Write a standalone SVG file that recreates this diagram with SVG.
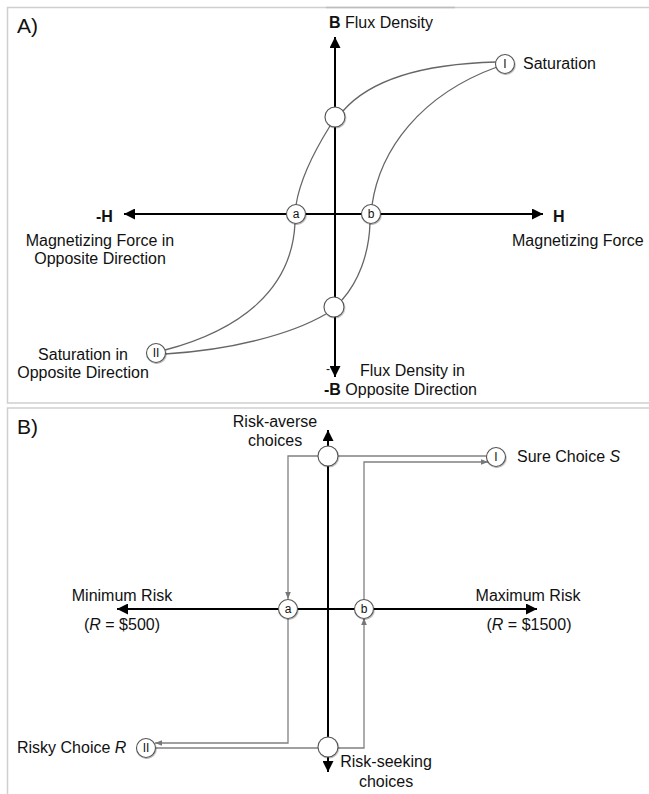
<svg xmlns="http://www.w3.org/2000/svg" width="649" height="794" viewBox="0 0 649 794">
<style>
text{font-family:"Liberation Sans",Arial,Helvetica,sans-serif;fill:#111}
.t{font-size:16px}
.h{font-size:21px}
.b{font-weight:bold}
.lbl{font-size:12px;text-anchor:middle}
.mid{text-anchor:middle}
.axis{stroke:#000;stroke-width:2;fill:none}
.curve{stroke:#666;stroke-width:1.3;fill:none}
.gl{stroke:#808080;stroke-width:1.3;fill:none}
.nd{fill:#fff;stroke:#555;stroke-width:1.1}
.frame{stroke:#cfcfcf;stroke-width:1.5;fill:none}
</style>
<defs>
<marker id="ah" viewBox="0 0 10 10" refX="10" refY="5" markerWidth="11" markerHeight="11" markerUnits="userSpaceOnUse" orient="auto-start-reverse">
<path d="M0,0 L10,5 L0,10 z" fill="#000"/>
</marker>
<marker id="ga" viewBox="0 0 10 10" refX="10" refY="5" markerWidth="7" markerHeight="7" markerUnits="userSpaceOnUse" orient="auto">
<path d="M0,1 L10,5 L0,9 z" fill="#777"/>
</marker>
<filter id="sh" x="-30%" y="-30%" width="160%" height="160%">
<feDropShadow dx="0.6" dy="1" stdDeviation="0.7" flood-color="#000" flood-opacity="0.3"/>
</filter>
</defs>
<rect width="649" height="794" fill="#fff"/>

<!-- Panel frames -->
<g id="frames">
<path class="frame" d="M650,7.5 H7.5 V403 H650"/>
<path d="M326,7.5 H455" stroke="#bdbdbd" stroke-width="1.5"/>
<path class="frame" d="M650,408 H7.5 V794"/>
</g>

<!-- Panel A -->
<g id="panelA">
<text class="h" x="17" y="33">A)</text>
<g id="connectorsA">
<line class="axis" x1="335" y1="377" x2="335" y2="37" marker-start="url(#ah)" marker-end="url(#ah)"/>
<line class="axis" x1="124" y1="214" x2="543" y2="214" marker-start="url(#ah)" marker-end="url(#ah)"/>
<path class="curve" d="M496,62 C420,64 370,80 343,111"/>
<path class="curve" d="M330,126 C315,150 300,180 296,205"/>
<path class="curve" d="M295,223 C292,290 240,330 165,350"/>
<path class="curve" d="M497,67 C420,95 380,150 372,205"/>
<path class="curve" d="M370,223 C369,255 358,282 342,300"/>
<path class="curve" d="M326,314 C290,335 230,350 165,354"/>
</g>
<g id="A-top"><circle class="nd" filter="url(#sh)" cx="335" cy="117" r="10"/></g>
<g id="A-I"><circle class="nd" filter="url(#sh)" cx="505" cy="64" r="9.5"/><text class="lbl" x="505" y="68">I</text></g>
<g id="A-a"><circle class="nd" filter="url(#sh)" cx="296" cy="214" r="9.5"/><text class="lbl" x="296" y="218">a</text></g>
<g id="A-b"><circle class="nd" filter="url(#sh)" cx="371" cy="214" r="9.5"/><text class="lbl" x="371" y="218">b</text></g>
<g id="A-bottom"><circle class="nd" filter="url(#sh)" cx="334" cy="307" r="10"/></g>
<g id="A-II"><circle class="nd" filter="url(#sh)" cx="156" cy="353" r="9.5"/><text class="lbl" x="156" y="357">II</text></g>
<text class="t" x="329" y="28"><tspan class="b">B</tspan> Flux Density</text>
<text class="t" x="523" y="69">Saturation</text>
<text class="t b" x="96" y="222">-H</text>
<text class="t b" x="553" y="222">H</text>
<text class="t mid" x="100" y="246">Magnetizing Force in</text>
<text class="t mid" x="100" y="264">Opposite Direction</text>
<text class="t" x="512" y="246">Magnetizing Force</text>
<text class="t mid" x="83" y="360">Saturation in</text>
<text class="t mid" x="83" y="378">Opposite Direction</text>
<text class="t" x="360" y="376">Flux Density in</text>
<text style="font-size:12px" x="326" y="373">-</text>
<text class="t" x="324" y="395"><tspan class="b">-B</tspan> Opposite Direction</text>
</g>

<!-- Panel B -->
<g id="panelB">
<text class="h" x="17" y="434">B)</text>
<g id="connectorsB">
<line class="axis" x1="328" y1="448" x2="328" y2="430" marker-end="url(#ah)"/>
<line class="axis" x1="328" y1="460" x2="328" y2="742"/>
<line class="axis" x1="328" y1="754" x2="328" y2="772" marker-end="url(#ah)"/>
<line class="axis" x1="117" y1="609" x2="537" y2="609" marker-start="url(#ah)" marker-end="url(#ah)"/>
<path class="gl" d="M318,456 H288 V599" marker-end="url(#ga)"/>
<path class="gl" d="M338,456 H487"/>
<path class="gl" d="M364,600 V462 H488" marker-end="url(#ga)"/>
<path class="gl" d="M288,618 V743 H155" marker-end="url(#ga)"/>
<path class="gl" d="M318,748 H155"/>
<path class="gl" d="M338,748 H364 V618" marker-end="url(#ga)"/>
</g>
<g id="B-top"><circle class="nd" filter="url(#sh)" cx="328" cy="456" r="10"/></g>
<g id="B-I"><circle class="nd" filter="url(#sh)" cx="496" cy="457" r="9.5"/><text class="lbl" x="496" y="461">I</text></g>
<g id="B-a"><circle class="nd" filter="url(#sh)" cx="288" cy="609" r="9.5"/><text class="lbl" x="288" y="613">a</text></g>
<g id="B-b"><circle class="nd" filter="url(#sh)" cx="364" cy="609" r="9.5"/><text class="lbl" x="364" y="613">b</text></g>
<g id="B-bottom"><circle class="nd" filter="url(#sh)" cx="328" cy="747" r="10"/></g>
<g id="B-II"><circle class="nd" filter="url(#sh)" cx="146" cy="748" r="9.5"/><text class="lbl" x="146" y="752">II</text></g>
<text class="t mid" x="275" y="427">Risk-averse</text>
<text class="t mid" x="275" y="446">choices</text>
<text class="t" x="517" y="462">Sure Choice <tspan font-style="italic">S</tspan></text>
<text class="t mid" x="122" y="601">Minimum Risk</text>
<text class="t mid" x="122" y="630">(<tspan font-style="italic">R</tspan> = $500)</text>
<text class="t mid" x="528" y="601">Maximum Risk</text>
<text class="t mid" x="529" y="630">(<tspan font-style="italic">R</tspan> = $1500)</text>
<text class="t" x="17" y="753">Risky Choice <tspan font-style="italic">R</tspan></text>
<text class="t mid" x="386" y="767">Risk-seeking</text>
<text class="t mid" x="386" y="787">choices</text>
</g>
</svg>
